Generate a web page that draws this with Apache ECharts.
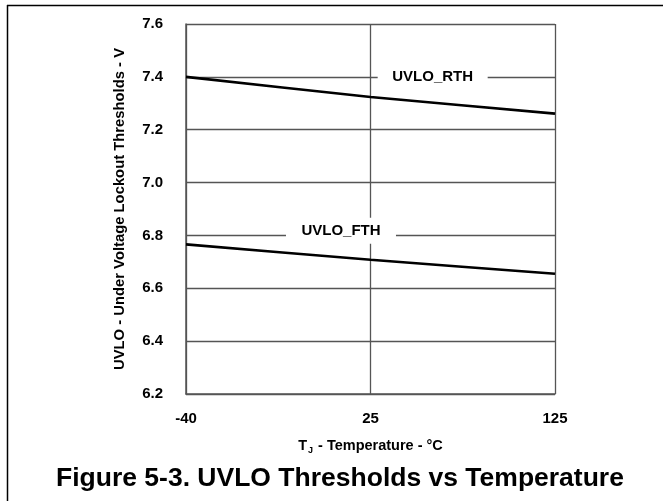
<!DOCTYPE html>
<html><head><meta charset="utf-8">
<script src="https://cdn.jsdelivr.net/npm/echarts@6/dist/echarts.min.js"></script>
<style>html,body{margin:0;padding:0;background:#fff}#c{width:663px;height:501px}</style>
</head><body><div id="c"></div>
<script>
var temps = [-40, 25, 125];
var rthValues = [7.40, 7.324, 7.261];
var fthValues = [6.766, 6.708, 6.655];
var yTicks = [6.2, 6.4, 6.6, 6.8, 7.0, 7.2, 7.4, 7.6];

var chart = echarts.init(document.getElementById('c'));
function pts(vals){ return vals.map(function(v,i){ return [i, v]; }); }
var font = 'Liberation Sans, Arial, sans-serif';
chart.setOption({
  animation: false,
  backgroundColor: '#fff',
  grid: { left: 186, right: 108, top: 24, bottom: 107 },
  graphic: [
    { type: 'line', shape: { x1: 7, y1: 5.5, x2: 663, y2: 5.5 }, style: { stroke: '#000', lineWidth: 1.5 } },
    { type: 'line', shape: { x1: 7.5, y1: 5, x2: 7.5, y2: 501 }, style: { stroke: '#000', lineWidth: 1.5 } },
    { type: 'text', left: 56, top: 465, style: { text: 'Figure 5-3. UVLO Thresholds vs Temperature', font: 'bold 26.5px ' + font, fill: '#000' } }
  ],
  xAxis: {
    type: 'value', min: 0, max: 2, interval: 1,
    name: '{t|T}{s|J}{t| - Temperature - °C}',
    nameLocation: 'middle', nameGap: 43,
    nameTextStyle: { rich: {
      t: { fontFamily: font, fontWeight: 'bold', fontSize: 14.5, color: '#000' },
      s: { fontFamily: font, fontWeight: 'bold', fontSize: 9, color: '#000', padding: [9, 1, 0, 1] }
    } },
    axisLine: { show: true, lineStyle: { color: '#555', width: 1.5 } },
    axisTick: { show: false },
    axisLabel: { margin: 17, color: '#000', fontFamily: font, fontWeight: 'bold', fontSize: 15,
      formatter: function(v){ return String(temps[Math.round(v)]); } },
    splitLine: { show: true, lineStyle: { color: '#555', width: 1.3 } }
  },
  yAxis: {
    type: 'value', min: yTicks[0], max: yTicks[yTicks.length-1], interval: 0.2,
    name: 'UVLO - Under Voltage Lockout Thresholds - V',
    nameLocation: 'middle', nameGap: 59,
    nameTextStyle: { fontFamily: font, fontWeight: 'bold', fontSize: 14.8, color: '#000' },
    axisLine: { show: true, lineStyle: { color: '#555', width: 1.5 } },
    axisTick: { show: false },
    axisLabel: { margin: 23, color: '#000', fontFamily: font, fontWeight: 'bold', fontSize: 15,
      formatter: function(v){ return v.toFixed(1); } },
    splitLine: { show: true, lineStyle: { color: '#555', width: 1.3 } }
  },
  series: [
    { name: 'UVLO_RTH', type: 'line', data: pts(rthValues), showSymbol: false, smooth: 0.2,
      lineStyle: { color: '#000', width: 2.6 },
      markPoint: { symbol: 'rect', symbolSize: [110, 26], itemStyle: { color: '#fff' },
        label: { show: true, formatter: 'UVLO_RTH', color: '#000', fontFamily: font, fontWeight: 'bold', fontSize: 15 },
        data: [{ coord: [1.337, 7.4] }] } },
    { name: 'UVLO_FTH', type: 'line', data: pts(fthValues), showSymbol: false, smooth: 0.2,
      lineStyle: { color: '#000', width: 2.6 },
      markPoint: { symbol: 'rect', symbolSize: [110, 26], itemStyle: { color: '#fff' },
        label: { show: true, formatter: 'UVLO_FTH', color: '#000', fontFamily: font, fontWeight: 'bold', fontSize: 15 },
        data: [{ coord: [0.84, 6.818] }] } }
  ]
});
</script></body></html>
